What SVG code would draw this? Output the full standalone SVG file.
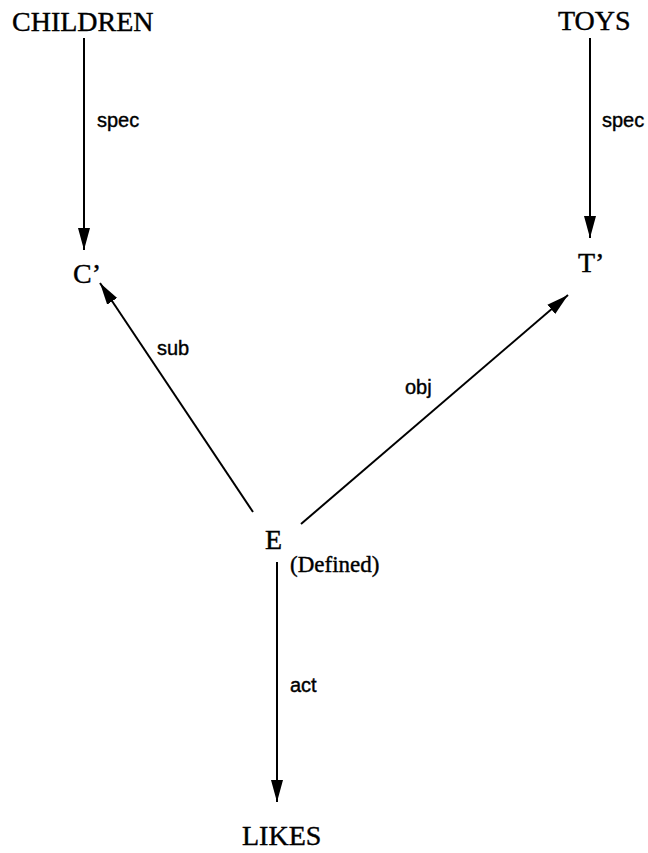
<svg xmlns="http://www.w3.org/2000/svg" width="648" height="853" viewBox="0 0 648 853">
<style>
.n{font-family:"Liberation Serif","Times New Roman",serif;font-size:28px;fill:#000;stroke:#000;stroke-width:0.4}
.s{font-family:"Liberation Serif","Times New Roman",serif;font-size:23px;fill:#000;stroke:#000;stroke-width:0.4}
.l{font-family:"Liberation Sans",Arial,sans-serif;font-size:20px;fill:#000;stroke:#000;stroke-width:0.4}
.c{stroke:#000;stroke-width:2;fill:none;marker-end:url(#ah)}
</style>
<defs>
<marker id="ah" markerUnits="userSpaceOnUse" markerWidth="24" markerHeight="14" refX="22" refY="6" orient="auto" viewBox="0 0 24 12">
<path d="M0,0 L22,6 L0,12 z" fill="#000"/>
</marker>
</defs>
<rect width="648" height="853" fill="#fff"/>
<g id="connectors">
<line class="c" x1="84" y1="38" x2="84" y2="250"/>
<line class="c" x1="590" y1="38" x2="590" y2="238"/>
<line class="c" x1="253" y1="512" x2="100" y2="283"/>
<line class="c" x1="301" y1="524" x2="568" y2="295"/>
<line class="c" x1="277" y1="562" x2="277" y2="802"/>
<text class="l" x="97" y="127">spec</text>
<text class="l" x="602" y="127">spec</text>
<text class="l" x="157" y="355">sub</text>
<text class="l" x="405" y="394">obj</text>
<text class="l" x="290" y="692">act</text>
</g>
<g id="children"><text class="n" x="12" y="31">CHILDREN</text></g>
<g id="toys"><text class="n" x="558" y="30">TOYS</text></g>
<g id="c-prime"><text class="n" x="73" y="283">C’</text></g>
<g id="t-prime"><text class="n" x="578" y="272">T’</text></g>
<g id="e"><text class="n" x="265" y="549">E</text><text class="s" x="290" y="572">(Defined)</text></g>
<g id="likes"><text class="n" x="242" y="845">LIKES</text></g>
</svg>
